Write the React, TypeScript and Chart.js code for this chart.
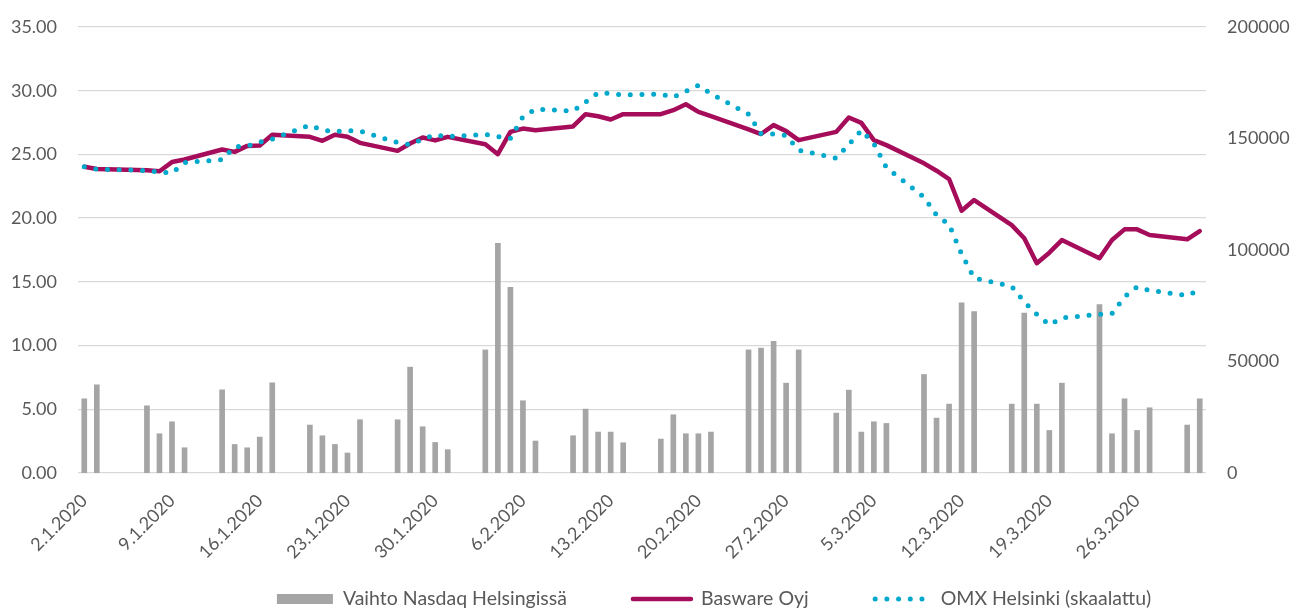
import React, { useEffect, useRef } from 'react';
import { Chart, registerables } from 'chart.js';

Chart.register(...registerables);

const dates = [
  '2.1.2020','3.1.2020','4.1.2020','5.1.2020','6.1.2020','7.1.2020','8.1.2020','9.1.2020','10.1.2020','11.1.2020',
  '12.1.2020','13.1.2020','14.1.2020','15.1.2020','16.1.2020','17.1.2020','18.1.2020','19.1.2020','20.1.2020','21.1.2020',
  '22.1.2020','23.1.2020','24.1.2020','25.1.2020','26.1.2020','27.1.2020','28.1.2020','29.1.2020','30.1.2020','31.1.2020',
  '1.2.2020','2.2.2020','3.2.2020','4.2.2020','5.2.2020','6.2.2020','7.2.2020','8.2.2020','9.2.2020','10.2.2020',
  '11.2.2020','12.2.2020','13.2.2020','14.2.2020','15.2.2020','16.2.2020','17.2.2020','18.2.2020','19.2.2020','20.2.2020',
  '21.2.2020','22.2.2020','23.2.2020','24.2.2020','25.2.2020','26.2.2020','27.2.2020','28.2.2020','29.2.2020','1.3.2020',
  '2.3.2020','3.3.2020','4.3.2020','5.3.2020','6.3.2020','7.3.2020','8.3.2020','9.3.2020','10.3.2020','11.3.2020',
  '12.3.2020','13.3.2020','14.3.2020','15.3.2020','16.3.2020','17.3.2020','18.3.2020','19.3.2020','20.3.2020','21.3.2020',
  '22.3.2020','23.3.2020','24.3.2020','25.3.2020','26.3.2020','27.3.2020','28.3.2020','29.3.2020','30.3.2020','31.3.2020',
];

// Trading volume (right axis), null = no trading
const volume: (number | null)[] = [
  33270, 39540, null, null, null, 30130, 17600, 22970, 11320, null,
  null, 37300, 12800, 11300, 16100, 40450, null, null, 21500, 16700,
  12800, 8970, 23880, null, null, 23880, 47480, 20740, 13700, 10460,
  null, null, 55200, 103000, 83300, 32400, 14340, null, null, 16700,
  28650, 18360, 18360, 13560, null, null, 15220, 26120, 17600, 17600,
  18360, null, null, 55200, 56000, 59100, 40300, 55200, null, null,
  26870, 37160, 18360, 22970, 22220, null, null, 44170, 24630, 30900,
  76270, 72390, null, null, 30900, 71660, 30900, 19080, 40300, null,
  null, 75500, 17600, 33270, 19080, 29260, null, null, 21490, 33270,
];

// Basware Oyj share price (left axis)
const basware: (number | null)[] = [
  24.03, 23.85, null, null, null, 23.75, 23.68, 24.40, 24.60, null,
  null, 25.39, 25.20, 25.67, 25.70, 26.54, null, null, 26.38, 26.07,
  26.54, 26.38, 25.91, null, null, 25.28, 25.86, 26.33, 26.10, 26.38,
  null, null, 25.80, 25.02, 26.77, 27.03, 26.90, null, null, 27.20,
  28.16, 28.00, 27.74, 28.16, null, null, 28.16, 28.47, 28.94, 28.34,
  28.00, null, null, 26.97, 26.60, 27.30, 26.83, 26.12, null, null,
  26.77, 27.90, 27.48, 26.12, 25.73, null, null, 24.30, 23.72, 23.07,
  20.58, 21.42, null, null, 19.45, 18.42, 16.46, 17.29, 18.28, null,
  null, 16.85, 18.28, 19.12, 19.12, 18.68, null, null, 18.34, 18.99,
];

// OMX Helsinki, scaled to Basware start (left axis)
const omx: (number | null)[] = [
  24.03, 23.85, null, null, null, 23.73, 23.62, 23.55, 24.36, null,
  null, 24.59, 25.60, 25.65, 25.96, 26.21, null, null, 27.30, 26.92,
  26.79, 26.87, 26.83, null, null, 25.93, 25.77, 26.20, 26.53, 26.40,
  null, null, 26.57, 26.40, 26.26, 27.96, 28.55, null, null, 28.41,
  29.11, 29.84, 29.78, 29.67, null, null, 29.73, 29.50, 29.96, 30.43,
  29.77, null, null, 28.16, 26.63, 26.60, 26.48, 25.33, null, null,
  24.71, 25.77, 26.90, 25.85, 23.97, null, null, 21.65, 20.24, 19.50,
  17.19, 15.30, null, null, 14.64, 13.42, 12.45, 11.62, 12.17, null,
  null, 12.45, 12.51, 13.82, 14.60, 14.33, null, null, 13.93, 14.37,
];

const leftTicks = [0, 5, 10, 15, 20, 25, 30, 35];
const rightTicks = [0, 50000, 100000, 150000, 200000];

const seriesNames = ['Vaihto Nasdaq Helsingissä', 'Basware Oyj', 'OMX Helsinki (skaalattu)'];

const FONT = 'Lato';
const TEXT_COLOR = '#595959';
const BAR_COLOR = '#A5A5A5';
const BASWARE_COLOR = '#A50D5B';
const OMX_COLOR = '#00A8CC';
const DOT_GAP = 11.7;

const bottomLegend = {
  id: 'bottomLegend',
  afterDraw(chart: any) {
    const ctx = chart.ctx as CanvasRenderingContext2D;
    const ds = chart.data.datasets;
    const specs = [
      { kind: 'box', w: 56, gap: 10 },
      { kind: 'line', w: 62, gap: 8 },
      { kind: 'dots', w: 50, gap: 18 },
    ];
    const itemGap = 64;
    const centerX = 714;
    const y = 599;
    ctx.save();
    ctx.font = `19.5px ${FONT}`;
    const textW = ds.map((d: any) => ctx.measureText(d.label).width);
    let total = 0;
    specs.forEach((s, i) => { total += s.w + s.gap + textW[i]; });
    total += itemGap * (specs.length - 1);
    let x = centerX - total / 2;
    specs.forEach((s, i) => {
      const d = ds[i];
      if (s.kind === 'box') {
        ctx.fillStyle = d.backgroundColor;
        ctx.fillRect(x, y - 5, s.w, 10);
      } else if (s.kind === 'line') {
        ctx.strokeStyle = d.borderColor;
        ctx.lineWidth = 4.5;
        ctx.lineCap = 'round';
        ctx.setLineDash([]);
        ctx.beginPath();
        ctx.moveTo(x + 2, y);
        ctx.lineTo(x + s.w - 2, y);
        ctx.stroke();
      } else {
        ctx.strokeStyle = d.borderColor;
        ctx.lineWidth = 5;
        ctx.lineCap = 'round';
        ctx.setLineDash([0, DOT_GAP]);
        ctx.beginPath();
        ctx.moveTo(x + 2.5, y);
        ctx.lineTo(x + s.w, y);
        ctx.stroke();
        ctx.setLineDash([]);
      }
      x += s.w + s.gap;
      ctx.fillStyle = TEXT_COLOR;
      ctx.textAlign = 'left';
      ctx.textBaseline = 'middle';
      ctx.fillText(d.label, x, y);
      x += textW[i] + itemGap;
    });
    ctx.restore();
  },
};

const noVerticalPadding = (s: any) => {
  s.paddingTop = 0;
  s.paddingBottom = 0;
};

export default function App() {
  const canvasRef = useRef<HTMLCanvasElement | null>(null);

  useEffect(() => {
    const canvas = canvasRef.current;
    if (!canvas) return;
    Chart.defaults.font.family = FONT;
    const chart = new Chart(canvas, {
      type: 'bar',
      data: {
        labels: dates,
        datasets: [
          {
            type: 'bar',
            label: seriesNames[0],
            data: volume,
            yAxisID: 'yRight',
            backgroundColor: BAR_COLOR,
            barThickness: 5,
            order: 2,
          } as any,
          {
            type: 'line',
            label: seriesNames[1],
            data: basware,
            yAxisID: 'yLeft',
            borderColor: BASWARE_COLOR,
            backgroundColor: BASWARE_COLOR,
            borderWidth: 4.5,
            borderJoinStyle: 'round',
            borderCapStyle: 'round',
            pointRadius: 0,
            tension: 0,
            spanGaps: true,
            order: 1,
          } as any,
          {
            type: 'line',
            label: seriesNames[2],
            data: omx,
            yAxisID: 'yLeft',
            borderColor: OMX_COLOR,
            backgroundColor: OMX_COLOR,
            borderWidth: 5,
            borderDash: [0, DOT_GAP],
            borderCapStyle: 'round',
            pointRadius: 0,
            tension: 0,
            spanGaps: true,
            order: 0,
          } as any,
        ],
      },
      options: {
        animation: false,
        responsive: true,
        maintainAspectRatio: false,
        layout: { padding: { top: 27, bottom: 40, left: 0, right: 0 } },
        plugins: { legend: { display: false }, tooltip: { enabled: false } },
        scales: {
          x: {
            grid: { display: false, drawTicks: false },
            border: { display: false },
            ticks: {
              autoSkip: false,
              maxRotation: 45,
              minRotation: 45,
              padding: 17,
              color: TEXT_COLOR,
              font: { family: FONT, size: 18 },
              callback: (_v: any, i: number) => (i % 7 === 0 ? dates[i] : ''),
            },
            afterFit: (s: any) => { s.height = 95; },
          },
          yLeft: {
            type: 'linear',
            position: 'left',
            min: 0,
            max: 35,
            grid: { color: '#D9D9D9', lineWidth: 1.3, drawTicks: false },
            border: { display: false },
            ticks: {
              padding: 21,
              color: TEXT_COLOR,
              font: { family: FONT, size: 18 },
              callback: (v: any) => Number(v).toFixed(2),
            },
            afterBuildTicks: (s: any) => { s.ticks = leftTicks.map((v) => ({ value: v })); },
            afterFit: (s: any) => { s.width = 78; noVerticalPadding(s); },
          },
          yRight: {
            type: 'linear',
            position: 'right',
            min: 0,
            max: 200000,
            grid: { display: false, drawTicks: false },
            border: { display: false },
            ticks: {
              padding: 21,
              color: TEXT_COLOR,
              font: { family: FONT, size: 18 },
              callback: (v: any) => String(v),
            },
            afterBuildTicks: (s: any) => { s.ticks = rightTicks.map((v) => ({ value: v })); },
            afterFit: (s: any) => { s.width = 96; noVerticalPadding(s); },
          },
        },
      } as any,
      plugins: [bottomLegend],
    });
    return () => chart.destroy();
  }, []);

  return (
    <div style={{ position: 'absolute', left: 0, top: 0, width: 1302, height: 608 }}>
      <canvas ref={canvasRef} style={{ display: 'block' }} />
    </div>
  );
}
